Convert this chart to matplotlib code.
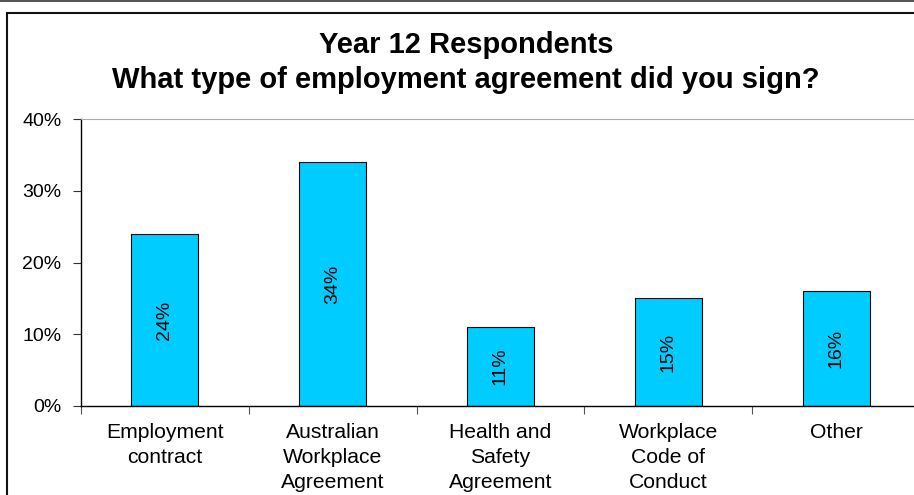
import numpy as np
import matplotlib.pyplot as plt
from matplotlib.patches import Rectangle
from matplotlib.lines import Line2D

plt.rcParams['font.family'] = ['Liberation Sans', 'DejaVu Sans']

# Dados do gráfico
categorias = ["Employment\ncontract", "Australian\nWorkplace\nAgreement",
              "Health and\nSafety\nAgreement", "Workplace\nCode of\nConduct", "Other"]
valores = [24, 34, 11, 15, 16]
rotulos = ["24%", "34%", "11%", "15%", "16%"]
yticks = [0, 10, 20, 30, 40]

W, H = 914, 495
fig = plt.figure(figsize=(W / 100, H / 100), dpi=100)

# moldura externa
fig.add_artist(Line2D([0, 1], [1 - 0.5 / H, 1 - 0.5 / H], color='#333333', lw=1.2,
                      transform=fig.transFigure))
fig.add_artist(Rectangle((7.5 / W, -0.1), 1.2, 1 - 12.5 / H + 0.1, fill=False,
                         edgecolor='#111111', lw=1.5, transform=fig.transFigure))

ax = fig.add_axes([81 / W, 1 - 406 / H, 839 / W, 287 / H])
x = np.arange(len(categorias))
bars = ax.bar(x, valores, width=0.4, color='#00CCFF', edgecolor='black', linewidth=0.8)

for xi, v, r in zip(x, valores, rotulos):
    ax.text(xi, v / 2, r, rotation=90, ha='center', va='center', fontsize=14)

ax.set_xlim(-0.5, len(categorias) - 0.5)
ax.set_ylim(0, 40)
ax.set_yticks(yticks)
ax.set_yticklabels([f"{t}%" for t in yticks], fontsize=14)
ax.tick_params(axis='y', direction='out', length=6, pad=8, color='#333333')

ax.set_xticks(np.arange(-0.5, len(categorias), 1.0))
ax.set_xticklabels([])
ax.set_xticks(x, minor=True)
ax.set_xticklabels(categorias, minor=True, fontsize=15.2, linespacing=1.42)
ax.tick_params(axis='x', which='minor', length=0, pad=12)
ax.tick_params(axis='x', which='major', direction='out', length=6, color='#555555')

ax.spines['top'].set_color('#aaaaaa')
ax.spines['right'].set_visible(False)
ax.spines['left'].set_linewidth(1.0)
ax.spines['bottom'].set_linewidth(1.0)

fig.text(466 / W, 1 - 45 / H, "Year 12 Respondents", ha='center', va='center',
         fontsize=21, fontweight='bold')
fig.text(466 / W, 1 - 80 / H, "What type of employment agreement did you sign?",
         ha='center', va='center', fontsize=21, fontweight='bold')

fig.savefig('out.png', dpi=100)
